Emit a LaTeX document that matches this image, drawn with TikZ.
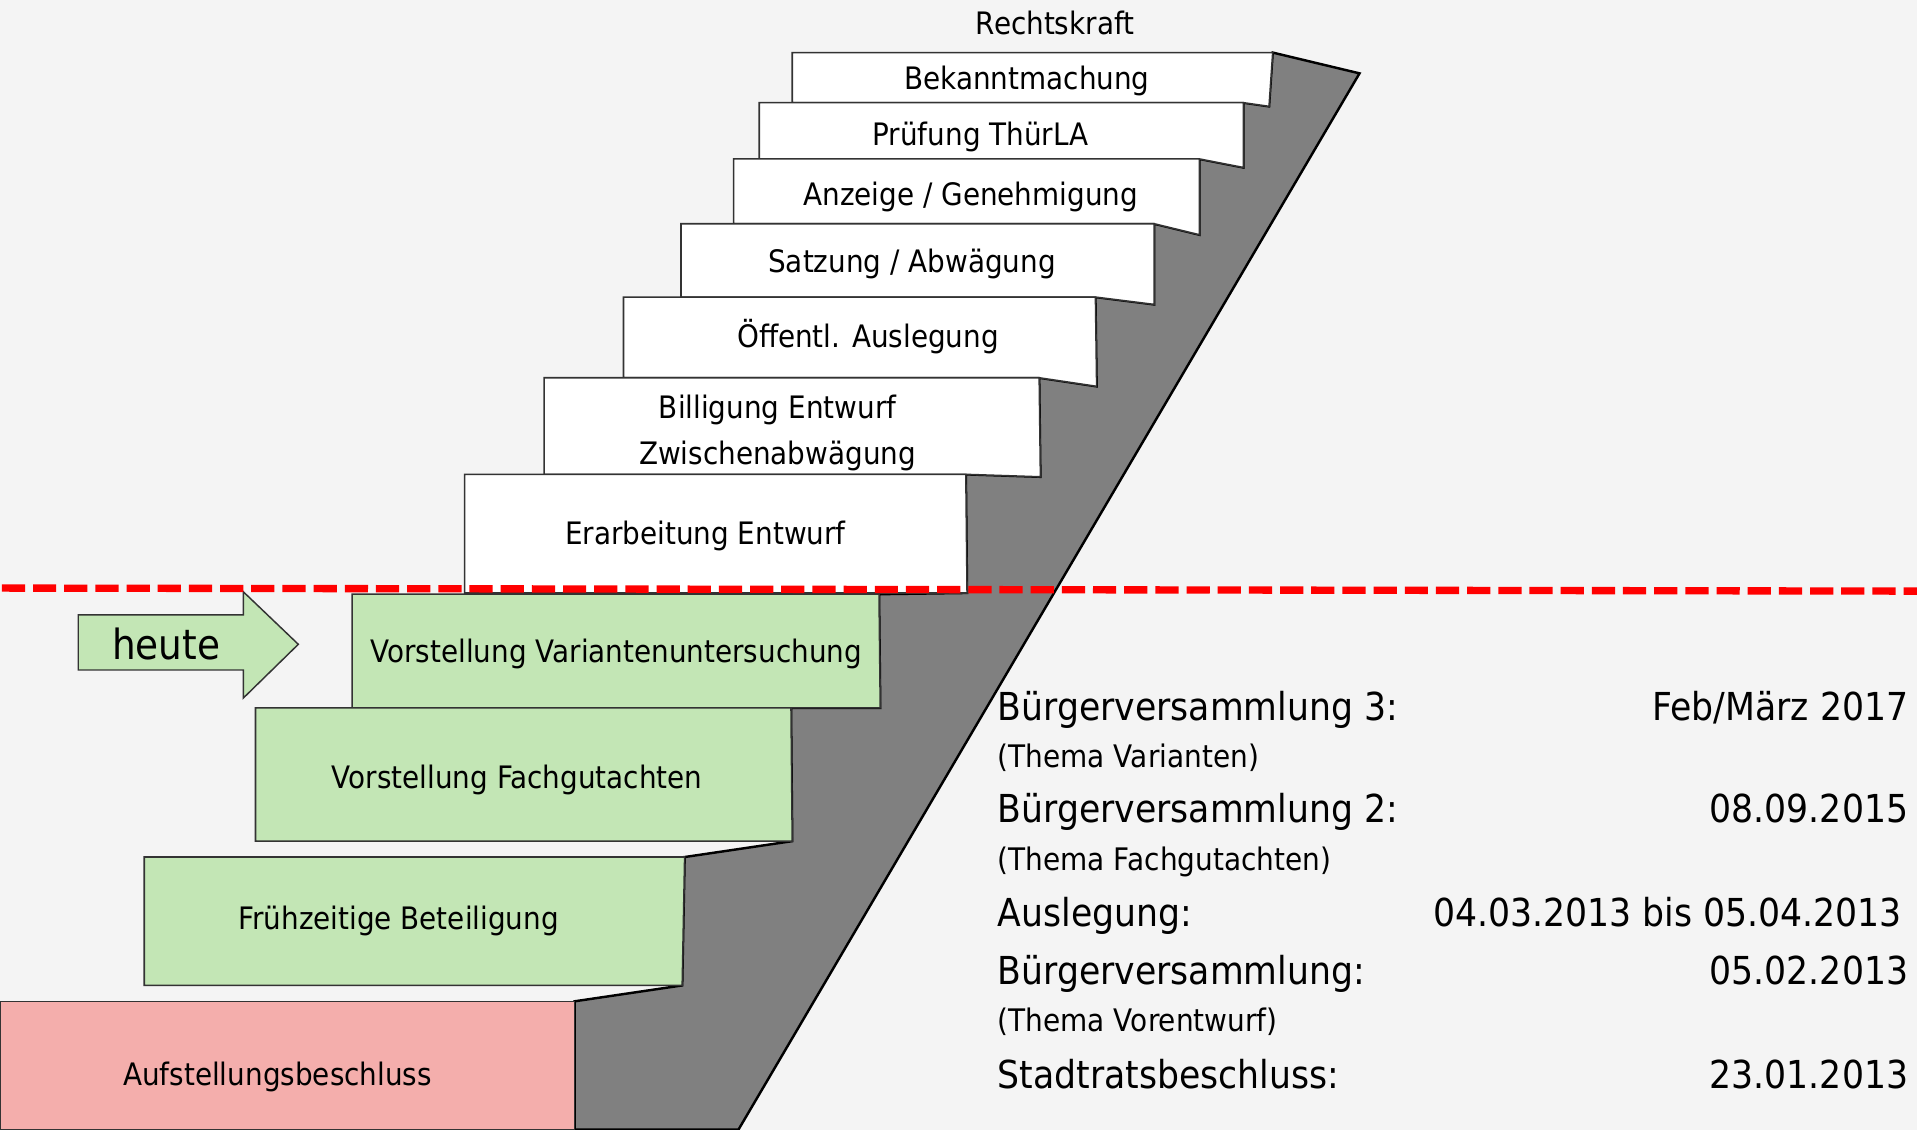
\documentclass[tikz,border=0pt]{standalone}
\usepackage{fontspec}
\setmainfont{DejaVu Sans}[FakeStretch=0.9]
\definecolor{bg}{HTML}{F4F4F4}
\definecolor{stepgreen}{HTML}{C3E6B5}
\definecolor{steppink}{HTML}{F4AEAC}
\definecolor{stairgray}{HTML}{808080}
\definecolor{edgecol}{HTML}{333333}
\tikzset{
  stepbox/.style={draw=edgecol, line width=1.3pt, line join=miter},
  lbl/.style={font=\fontsize{25.3}{30}\selectfont, text height=18pt, text depth=0pt, inner sep=0pt},
  big/.style={font=\fontsize{31.5}{37}\selectfont, inner sep=0pt},
  small/.style={font=\fontsize{25.4}{30}\selectfont, inner sep=0pt},
}
\begin{document}
\begin{tikzpicture}[x=1pt,y=-1pt]
\useasboundingbox (0,0) rectangle (1568,924);
\fill[bg] (0,0) rectangle (1568,924);

% gray stair body
\draw[fill=stairgray, line width=2pt, line join=miter]
  (1041,43) -- (1112,60) -- (604,924) -- (470,924) -- (470,819) -- (558,806)
  -- (560,701) -- (648,688) -- (647,579) -- (720,579) -- (719,486) -- (791,485)
  -- (790,388) -- (851,390) -- (850,309) -- (897,316) -- (896,243) -- (944,249)
  -- (944,183) -- (981,192) -- (981,130) -- (1017,137) -- (1017,84) -- (1038,87) -- cycle;

% white steps
\draw[stepbox, fill=white] (648,43) -- (1041,43) -- (1038,87) -- (1017,84) -- (648,84) -- cycle;
\draw[stepbox, fill=white] (621,84) -- (1017,84) -- (1017,137) -- (981,130) -- (621,130) -- cycle;
\draw[stepbox, fill=white] (600,130) -- (981,130) -- (981,192) -- (944,183) -- (600,183) -- cycle;
\draw[stepbox, fill=white] (557,183) -- (944,183) -- (944,249) -- (896,243) -- (557,243) -- cycle;
\draw[stepbox, fill=white] (510,243) -- (896,243) -- (897,316) -- (850,309) -- (510,309) -- cycle;
\draw[stepbox, fill=white] (445,309) -- (850,309) -- (851,390) -- (790,388) -- (445,388) -- cycle;
\draw[stepbox, fill=white] (380,388) -- (790,388) -- (791,485) -- (380,485) -- cycle;

% green / pink steps
\draw[stepbox, fill=stepgreen] (288,486) -- (719,486) -- (720,579) -- (288,579) -- cycle;
\draw[stepbox, fill=stepgreen] (209,579) -- (647,579) -- (648,688) -- (209,688) -- cycle;
\draw[stepbox, fill=stepgreen] (118,701) -- (560,701) -- (558,806) -- (118,806) -- cycle;
\draw[stepbox, fill=steppink] (0,819) -- (470,819) -- (470,924) -- (0,924) -- cycle;

% heute arrow
\draw[draw=edgecol, line width=1.2pt, fill=stepgreen, line join=miter]
  (64,503) -- (199,503) -- (199,484) -- (244,527) -- (199,571) -- (199,548) -- (64,548) -- cycle;
\node[font=\fontsize{34}{40}\selectfont, text height=25pt, text depth=0pt, inner sep=0pt] (heute) at (136,527) {heute};

% red dashed line
\draw[red, line width=6pt, dash pattern=on 19pt off 6.5pt] (1.5,481) -- (1568,483.5);

% step labels
\node[lbl] (recht) at (863,19) {Rechtskraft};
\node[lbl] (bek) at (840,64) {Bekanntmachung};
\node[lbl] (pruef) at (802,110) {Prüfung ThürLA};
\node[lbl] (anz) at (794,159) {Anzeige / Genehmigung};
\node[lbl] (satz) at (746,214) {Satzung / Abwägung};
\node[lbl] (oeff) at (710,275) {Öffentl. Auslegung};
\node[lbl] (bill1) at (636,333) {Billigung Entwurf};
\node[lbl] (bill2) at (636,371) {Zwischenabwägung};
\node[lbl] (erarb) at (577,436) {Erarbeitung Entwurf};
\node[lbl] (var) at (504,533) {Vorstellung Variantenuntersuchung};
\node[lbl] (fach) at (423,636) {Vorstellung Fachgutachten};
\node[lbl] (frueh) at (326,751) {Frühzeitige Beteiligung};
\node[lbl] (aufst) at (227,879) {Aufstellungsbeschluss};

% right text block
\node[big, anchor=base west] (b3) at (816,589) {Bürgerversammlung 3:};
\node[big, anchor=base east] (b3d) at (1561,589) {Feb/März 2017};
\node[small, anchor=base west] (t3) at (816,628) {(Thema Varianten)};
\node[big, anchor=base west] (b2) at (816,673) {Bürgerversammlung 2:};
\node[big, anchor=base east] (b2d) at (1561,673) {08.09.2015};
\node[small, anchor=base west] (t2) at (816,712) {(Thema Fachgutachten)};
\node[big, anchor=base west] (ausl) at (816,758) {Auslegung:};
\node[big, anchor=base east] (ausld) at (1556,758) {04.03.2013 bis 05.04.2013};
\node[big, anchor=base west] (b1) at (816,805) {Bürgerversammlung:};
\node[big, anchor=base east] (b1d) at (1561,805) {05.02.2013};
\node[small, anchor=base west] (t1) at (816,844) {(Thema Vorentwurf)};
\node[big, anchor=base west] (stadt) at (816,890) {Stadtratsbeschluss:};
\node[big, anchor=base east] (stadtd) at (1561,890) {23.01.2013};
\end{tikzpicture}
\end{document}
